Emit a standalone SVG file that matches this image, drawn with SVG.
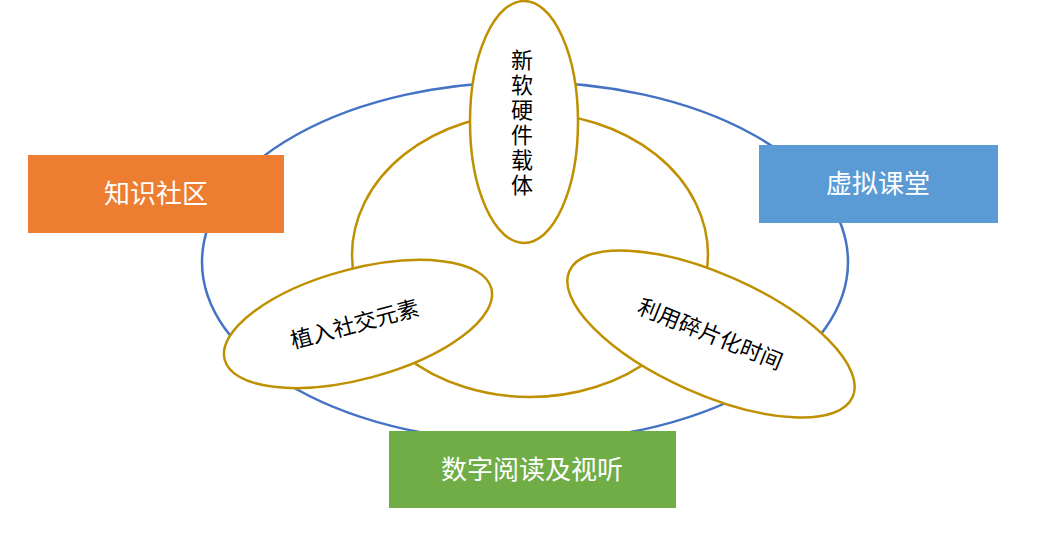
<svg xmlns="http://www.w3.org/2000/svg" width="1059" height="534" viewBox="0 0 1059 534">
<style>
.g{fill:#fff;stroke:#BF9000;stroke-width:2.5}
.t{font-family:"Liberation Sans","Noto Sans CJK SC",sans-serif;font-size:22px;fill:#000;text-anchor:middle}
.w{font-family:"Liberation Sans","Noto Sans CJK SC",sans-serif;font-size:26px;fill:#fff;text-anchor:middle}
</style>
<rect width="1059" height="534" fill="#fff"/>
<g id="connectors">
<ellipse cx="525" cy="262" rx="323" ry="180" fill="none" stroke="#4472C4" stroke-width="2.5"/>
<ellipse cx="530" cy="255" rx="178" ry="142" class="g"/>
</g>
<g id="n-top"><ellipse cx="524" cy="122" rx="54" ry="121" class="g"/>
<text class="t" x="522" y="68">新</text><text class="t" x="522" y="93">软</text><text class="t" x="522" y="118">硬</text><text class="t" x="522" y="143">件</text><text class="t" x="522" y="168">载</text><text class="t" x="522" y="193">体</text></g>
<g id="n-left"><ellipse cx="358" cy="324" rx="138" ry="55" transform="rotate(-15 358 324)" class="g"/>
<text class="t" x="355" y="332" transform="rotate(-15 355 325)">植入社交元素</text></g>
<g id="n-right"><ellipse cx="711" cy="334" rx="155" ry="60" transform="rotate(24 711 334)" class="g"/>
<text class="t" x="710" y="342" transform="rotate(22 710 335)">利用碎片化时间</text></g>
<g id="n-zhishi"><rect x="28" y="155" width="256" height="78" fill="#ED7D31"/><text class="w" x="156" y="203">知识社区</text></g>
<g id="n-xuni"><rect x="759" y="145" width="239" height="78" fill="#5B9BD5"/><text class="w" x="878" y="193">虚拟课堂</text></g>
<g id="n-shuzi"><rect x="389" y="431" width="287" height="77" fill="#70AD47"/><text class="w" x="532" y="479">数字阅读及视听</text></g>
</svg>
